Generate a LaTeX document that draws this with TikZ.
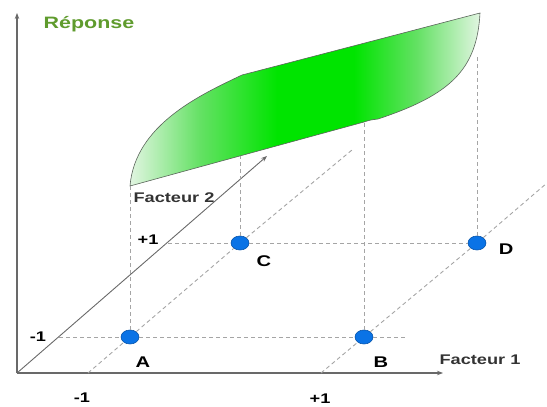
\documentclass[tikz,border=0pt]{standalone}
\usepackage{fontspec}
\setmainfont{Liberation Sans}[FakeStretch=1.3]
\usetikzlibrary{shapes.geometric, arrows.meta, positioning}
\definecolor{axisgray}{RGB}{105,105,105}
\definecolor{guidegray}{RGB}{165,165,165}
\definecolor{pointblue}{RGB}{10,115,230}
\definecolor{responsegreen}{RGB}{95,155,45}
\definecolor{surfgreen}{RGB}{0,228,0}
\definecolor{surfmid}{RGB}{100,225,100}
\definecolor{surfpale}{RGB}{225,245,225}
\definecolor{surfline}{RGB}{90,100,90}
% Horizontal gradient of the response surface (path box maps to 25bp..75bp)
\pgfdeclarehorizontalshading{surface}{100bp}{
    color(0bp)=(surfpale); color(25bp)=(surfpale); color(35bp)=(surfmid);
    color(46bp)=(surfgreen); color(57bp)=(surfgreen); color(66bp)=(surfmid);
    color(75bp)=(surfpale); color(100bp)=(surfpale)}
\tikzset{
    % Coordinate axes - gray arrows
    axis/.style={axisgray, line width=1.1pt, -{Stealth[length=6pt, width=4.5pt]}},
    % Projection lines - gray dashed lines
    guide line/.style={guidegray, dash pattern=on 4pt off 3pt, line width=0.9pt},
    % Experimental points - blue ellipses
    design point/.style={ellipse, draw=pointblue!75!black, fill=pointblue, minimum width=18pt, minimum height=14pt, inner sep=0pt, line width=0.6pt},
    % Point names and tick values
    point label/.style={font=\fontsize{15.5}{15.5}\selectfont\bfseries},
    tick label/.style={font=\fontsize{14}{14}\selectfont\bfseries},
    % Axis names
    axis label/.style={font=\fontsize{14}{14}\selectfont\bfseries, text=black!80}
}

\begin{document}
\begin{tikzpicture}[x=1pt, y=-1pt]
    \useasboundingbox (0,0) rectangle (547,407);

    % --- Set up coordinates ---
    % Axes
    \coordinate (O) at (17,373);
    \coordinate (X) at (443,373);
    \coordinate (Y) at (17,13);
    \coordinate (Z) at (267,156);

    % Levels -1 / +1 of both factors
    \coordinate (Zm) at (59,337);
    \coordinate (Zp) at (168,243);
    \coordinate (Xm) at (88,373);
    \coordinate (Xp) at (321,373);
    \coordinate (Xmtop) at (352,150);
    \coordinate (Xpend) at (547,183);
    \coordinate (Hend) at (408,337);

    % Response surface above the points
    \coordinate (SA) at (130,186);
    \coordinate (SC) at (240,156);
    \coordinate (SB) at (364,122);
    \coordinate (SD) at (477,55);

    % --- Draw Response Surface ---
    \shade[draw=surfline, line width=0.6pt, shading=surface]
        (SA) -- (SB) .. controls (370,120) .. (378,119)
        .. controls (450,95) and (477,70) .. (480,13)
        -- (242,75) .. controls (200,95) and (135,125) .. cycle;

    % --- Draw Axes ---
    \draw[axis] (O) -- (X);
    \draw[axis] (O) -- (Y);
    \draw[axis, line width=0.9pt] (O) -- (Z);

    % --- Draw Design Points ---
    \node[design point, label={[point label, label distance=9pt, xshift=13pt]below:A}] (A) at (130,337) {};
    \node[design point, label={[point label, label distance=9pt, xshift=17pt]below:B}] (B) at (364,337) {};
    \node[design point, label={[point label, label distance=2pt, xshift=24pt]below:C}] (C) at (240,243) {};
    \node[design point, label={[point label, label distance=9pt, yshift=-6pt]right:D}] (D) at (477,243) {};

    % --- Draw Projection Lines ---
    \draw[guide line] (Zm) -- (A) -- (B) -- (Hend);
    \draw[guide line] (Zp) -- (C) -- (D);
    \draw[guide line] (Xm) -- (A) -- (C) -- (Xmtop);
    \draw[guide line] (Xp) -- (B) -- (D) -- (Xpend);
    \draw[guide line] (A) -- (SA);
    \draw[guide line] (C) -- (SC);
    \draw[guide line] (B) -- (SB);
    \draw[guide line] (D) -- (SD);

    % --- Tick Values & Axis Names ---
    \node[tick label] (Tzm) at (38,337) {-1};
    \node[tick label] (Tzp) at (148,240) {+1};
    \node[tick label] (Txm) at (82,398) {-1};
    \node[tick label] (Txp) at (320,399) {+1};

    \node[axis label] (F1) at (480,360) {Facteur 1};
    \node[axis label] (F2) at (174,198) {Facteur 2};
    \node[font=\fontsize{16.5}{16.5}\selectfont\bfseries, text=responsegreen] (R) at (89,24) {Réponse};

\end{tikzpicture}
\end{document}
